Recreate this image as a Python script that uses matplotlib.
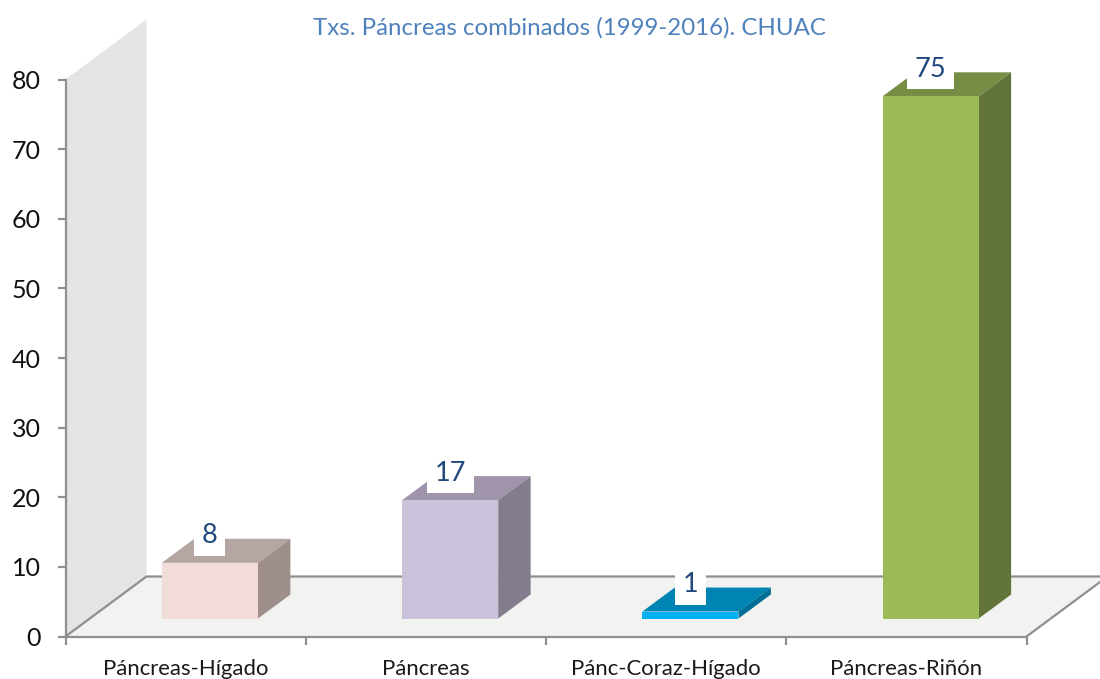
import matplotlib
matplotlib.use("Agg")
import matplotlib.pyplot as plt
from matplotlib.patches import Polygon

categories = ["Páncreas-Hígado", "Páncreas", "Pánc-Coraz-Hígado", "Páncreas-Riñón"]
values = [8, 17, 1, 75]
y_ticks = [0, 10, 20, 30, 40, 50, 60, 70, 80]
title = "Txs. Páncreas combinados (1999-2016). CHUAC"

front_colors = ["#f2dcd9", "#ccc1da", "#00b0f0", "#9bbb59"]
top_colors = ["#b5a5a3", "#a094ab", "#0084b4", "#768d43"]
side_colors = ["#9e8e8c", "#837c8d", "#006f97", "#627439"]

W, H = 1100, 679
AXIS = "#8f8f8f"
plt.rcParams["font.family"] = ["Lato", "DejaVu Sans"]

fig = plt.figure(figsize=(W / 100, H / 100), dpi=100)
ax = fig.add_axes([65.5 / W, 1 - 636.5 / H, (1027 - 66) / W, (636 - 79) / H])
ax.set_xlim(0, 4)
ax.set_ylim(0, 80)
ax.patch.set_visible(False)

# depth of the fake 3d box, in data units
DX = 81 / 240.25
DY = 60 / 6.9625


def shift(x, y, d):
    return (x + DX * d, y + DY * d)


def poly(pts, color, z):
    ax.add_patch(Polygon(pts, closed=True, fc=color, ec="none", clip_on=False, zorder=z))


# wall and floor
poly([shift(0, 0, 0), shift(0, 80, 0), shift(0, 80, 1), shift(0, 0, 1)], "#e4e4e2", 1)
poly([shift(0, 0, 0), shift(4, 0, 0), shift(4, 0, 1), shift(0, 0, 1)], "#f2f2f0", 1)
ax.plot(*zip(shift(0, 0, 0), shift(0, 0, 1), shift(4, 0, 1), shift(4, 0, 0)),
        color=AXIS, lw=1.6, clip_on=False, zorder=2)

for i, v in enumerate(values):
    x0, x1 = i + 0.3, i + 0.7
    d0, d1 = 0.3, 0.7
    poly([shift(x0, 0, d0), shift(x1, 0, d0), shift(x1, v, d0), shift(x0, v, d0)], front_colors[i], 5)
    poly([shift(x0, v, d0), shift(x1, v, d0), shift(x1, v, d1), shift(x0, v, d1)], top_colors[i], 4)
    poly([shift(x1, 0, d0), shift(x1, 0, d1), shift(x1, v, d1), shift(x1, v, d0)], side_colors[i], 4)
    cx, cy = shift(i + 0.5, v, d0)
    ax.annotate(str(v), (cx, cy), xytext=(0, 19.5), textcoords="offset points",
                ha="center", va="center", fontsize=19.5, color="#1f497d", zorder=6,
                bbox=dict(fc="white", ec="none", pad=5.5))

for s in ["top", "right"]:
    ax.spines[s].set_visible(False)
for s in ["left", "bottom"]:
    ax.spines[s].set_color(AXIS)
    ax.spines[s].set_linewidth(1.6)
    ax.spines[s].set_zorder(3)

ax.set_yticks(y_ticks)
ax.set_xticks(range(5))
ax.set_xticklabels([])
ax.set_xticks([i + 0.5 for i in range(4)], minor=True)
ax.set_xticklabels(categories, minor=True, fontsize=15.9, color="#1a1a1a")
ax.tick_params(axis="y", length=6, width=1.6, color=AXIS, pad=12, labelsize=18, labelcolor="#111111")
ax.tick_params(axis="x", which="major", length=6, width=1.6, color=AXIS)
ax.tick_params(axis="x", which="minor", length=0, pad=16)

fig.text(569.5 / W, 1 - 28 / H, title, ha="center", va="center", fontsize=17.3, color="#4f81bd")

fig.savefig("out.png", dpi=100)
